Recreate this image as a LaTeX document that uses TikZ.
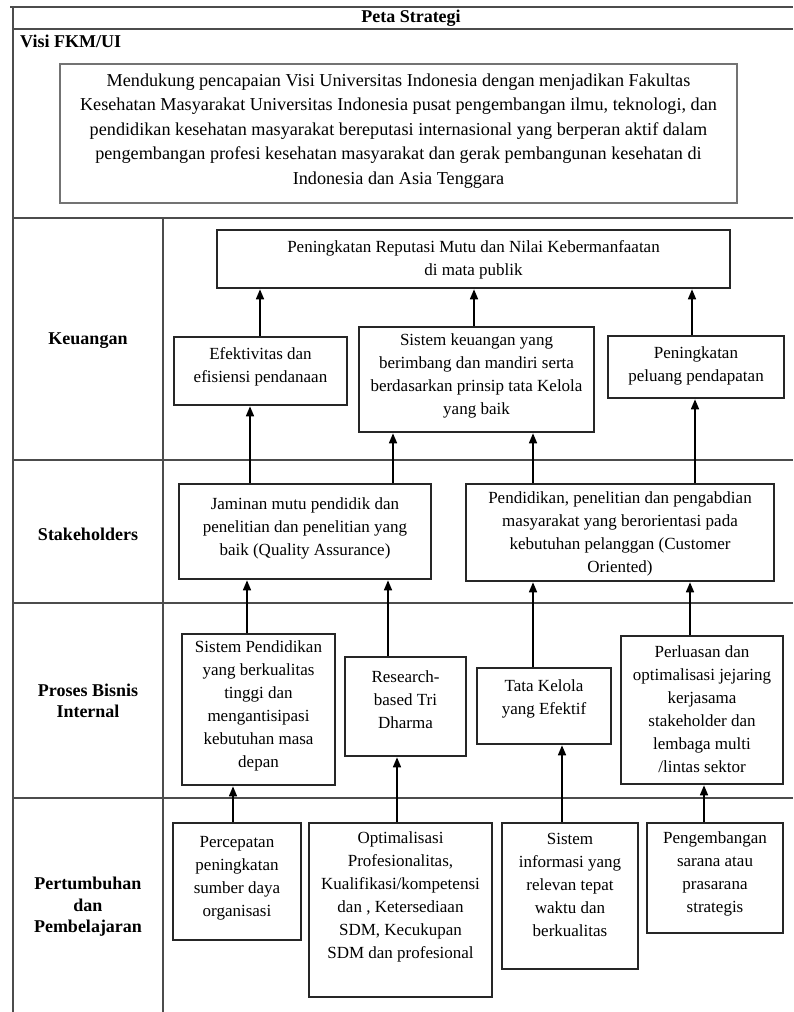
\documentclass[tikz,border=0pt]{standalone}
\usepackage{fontspec}
\setmainfont{Liberation Serif}
\usetikzlibrary{arrows.meta}
\newcommand\bxnode[7]{%
  \node[bx, minimum width={(#4-#2)*1pt}, minimum height={(#5-#3)*1pt}] (#1) at ({(#2+#4)/2},{(#3+#5)/2}) {};
  \node[txt] (#1t) at ({(#2+#4)/2},#6) {#7};}
\begin{document}
\begin{tikzpicture}[x=1pt,y=-1pt,
  tline/.style={draw=black!70, line width=2pt},
  bx/.style={draw=black!85, line width=2.6pt, inner sep=0pt},
  vbx/.style={draw=black!55, line width=2.8pt, inner sep=0pt},
  txt/.style={font=\fontsize{17}{23}\selectfont, align=center, inner sep=0pt},
  vtxt/.style={font=\fontsize{18.2}{24.5}\selectfont, align=center, inner sep=0pt},
  lbl/.style={font=\fontsize{18}{21.5}\selectfont\bfseries, align=center, inner sep=0pt},
  arr/.style={line width=1.6pt, -{Triangle[length=10pt,width=8pt]}}]
\useasboundingbox (0,0) rectangle (793,1012);
\fill[white] (0,0) rectangle (793,1012);

% table lines
\draw[tline] (10,7) -- (793,7);
\draw[tline] (13,7) -- (13,1012);
\draw[tline] (13,29) -- (793,29);
\draw[tline] (13,218) -- (793,218);
\draw[tline] (13,460) -- (793,460);
\draw[tline] (13,603) -- (793,603);
\draw[tline] (13,798) -- (793,798);
\draw[tline] (163,218) -- (163,1012);

% headings
\node[lbl] (title) at (411,18) {Peta Strategi};
\node[lbl, anchor=west] (visi) at (20,41) {Visi FKM/UI};
\node[vbx, minimum width=677pt, minimum height=139pt] (vision) at (398.5,133.5) {};
\node[vtxt] (visiont) at (398.5,131) {Mendukung pencapaian Visi Universitas Indonesia dengan menjadikan Fakultas\\
Kesehatan Masyarakat Universitas Indonesia pusat pengembangan ilmu, teknologi, dan\\
pendidikan kesehatan masyarakat bereputasi internasional yang berperan aktif dalam\\
pengembangan profesi kesehatan masyarakat dan gerak pembangunan kesehatan di\\
Indonesia dan Asia Tenggara};

% row labels
\node[lbl] (lk) at (88,341) {Keuangan};
\node[lbl] (ls) at (88,534) {Stakeholders};
\node[lbl] (lp) at (88,701) {Proses Bisnis\\Internal};
\node[lbl] (lg) at (88,907) {Pertumbuhan\\dan\\Pembelajaran};

% Keuangan
\bxnode{rep}{217}{230}{730}{288}{259.5}{Peningkatan Reputasi Mutu dan Nilai Kebermanfaatan\\di mata publik}
\bxnode{efe}{174}{337}{347}{405}{367}{Efektivitas dan\\efisiensi pendanaan}
\bxnode{sik}{359}{327}{594}{432}{376}{Sistem keuangan yang\\berimbang dan mandiri serta\\berdasarkan prinsip tata Kelola\\yang baik}
\bxnode{pel}{608}{336}{784}{398}{366}{Peningkatan\\peluang pendapatan}

% Stakeholders
\bxnode{jam}{179}{484}{431}{579}{528}{Jaminan mutu pendidik dan\\penelitian dan penelitian yang\\baik (Quality Assurance)}
\bxnode{pend}{466}{484}{774}{581}{534}{Pendidikan, penelitian dan pengabdian\\masyarakat yang berorientasi pada\\kebutuhan pelanggan (Customer\\Oriented)}

% Proses Bisnis Internal
\bxnode{sp}{182}{634}{335}{785}{706}{Sistem Pendidikan\\yang berkualitas\\tinggi dan\\mengantisipasi\\kebutuhan masa\\depan}
\bxnode{res}{345}{657}{466}{756}{699.5}{Research-\\based Tri\\Dharma}
\bxnode{tata}{477}{668}{611}{744}{698.5}{Tata Kelola\\yang Efektif}
\bxnode{perl}{621}{636}{783}{784}{709.5}{Perluasan dan\\optimalisasi jejaring\\kerjasama\\stakeholder dan\\lembaga multi\\/lintas sektor}

% Pertumbuhan dan Pembelajaran
\bxnode{perc}{173}{823}{301}{940}{878}{Percepatan\\peningkatan\\sumber daya\\organisasi}
\bxnode{opt}{309}{823}{492}{997}{896.5}{Optimalisasi\\Profesionalitas,\\Kualifikasi/kompetensi\\dan , Ketersediaan\\SDM, Kecukupan\\SDM dan profesional}
\bxnode{sinf}{502}{823}{638}{969}{884.5}{Sistem\\informasi yang\\relevan tepat\\waktu dan\\berkualitas}
\bxnode{peng}{647}{823}{783}{933}{874}{Pengembangan\\sarana atau\\prasarana\\strategis}

% connector columns
\coordinate (k1) at (260,0);
\coordinate (k2) at (474,0);
\coordinate (k3) at (692,0);
\coordinate (s1) at (250,0);
\coordinate (s2) at (393,0);
\coordinate (s3) at (533,0);
\coordinate (s4) at (695,0);
\coordinate (p1) at (247,0);
\coordinate (p2) at (388,0);
\coordinate (p3) at (533,0);
\coordinate (p4) at (690,0);
\coordinate (g1) at (233,0);
\coordinate (g2) at (397,0);
\coordinate (g3) at (562,0);
\coordinate (g4) at (704,0);

\draw[arr] (efe.north -| k1) -- (rep.south -| k1);
\draw[arr] (sik.north -| k2) -- (rep.south -| k2);
\draw[arr] (pel.north -| k3) -- (rep.south -| k3);

\draw[arr] (jam.north -| s1) -- (efe.south -| s1);
\draw[arr] (jam.north -| s2) -- (sik.south -| s2);
\draw[arr] (pend.north -| s3) -- (sik.south -| s3);
\draw[arr] (pend.north -| s4) -- (pel.south -| s4);

\draw[arr] (sp.north -| p1) -- (jam.south -| p1);
\draw[arr] (res.north -| p2) -- (jam.south -| p2);
\draw[arr] (tata.north -| p3) -- (pend.south -| p3);
\draw[arr] (perl.north -| p4) -- (pend.south -| p4);

\draw[arr] (perc.north -| g1) -- (sp.south -| g1);
\draw[arr] (opt.north -| g2) -- (res.south -| g2);
\draw[arr] (sinf.north -| g3) -- (tata.south -| g3);
\draw[arr] (peng.north -| g4) -- (perl.south -| g4);
\end{tikzpicture}
\end{document}
